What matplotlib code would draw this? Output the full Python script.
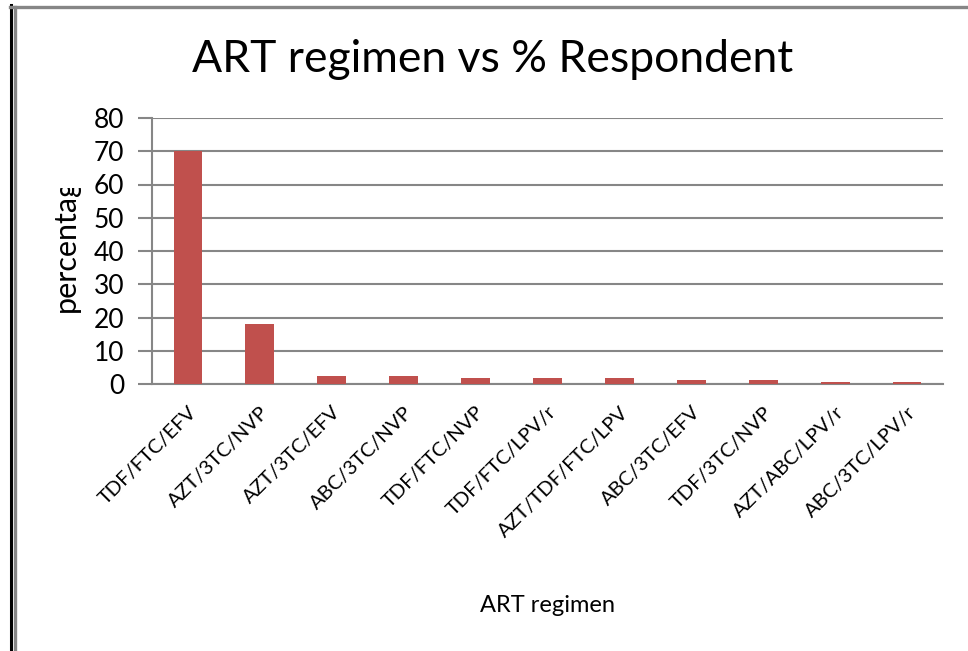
import matplotlib.pyplot as plt
from matplotlib.lines import Line2D
from matplotlib.transforms import Bbox

plt.rcParams["font.family"] = ["Lato", "DejaVu Sans"]

regimens = ["TDF/FTC/EFV", "AZT/3TC/NVP", "AZT/3TC/EFV", "ABC/3TC/NVP",
            "TDF/FTC/NVP", "TDF/FTC/LPV/r", "AZT/TDF/FTC/LPV", "ABC/3TC/EFV",
            "TDF/3TC/NVP", "AZT/ABC/LPV/r", "ABC/3TC/LPV/r"]
percent = [70, 18, 2.5, 2.5, 1.8, 1.8, 1.8, 1.2, 1.2, 0.6, 0.6]
yticks = [0, 10, 20, 30, 40, 50, 60, 70, 80]

W, H = 968, 651
fig = plt.figure(figsize=(W / 100, H / 100), dpi=100)
ax = fig.add_axes([152 / W, 1 - 384 / H, (943 - 152) / W, (384 - 118) / H])

grid_c = "#868686"
x = range(len(regimens))
ax.bar(x, percent, width=0.4, color="#C0504D", zorder=3)
ax.set_xlim(-0.5, len(regimens) - 0.5)
ax.set_ylim(0, 80)
ax.set_yticks(yticks)
ax.yaxis.grid(True, color=grid_c, linewidth=1.5)
ax.set_axisbelow(True)
ax.tick_params(axis="y", length=10, width=1.5, color=grid_c, labelsize=19, pad=10)
ax.tick_params(axis="x", length=0, pad=14)
ax.set_xticks(list(x))
ax.set_xticklabels(regimens, rotation=45, ha="right", rotation_mode="anchor", fontsize=14.5)
for s in ["top", "right"]:
    ax.spines[s].set_visible(False)
for s in ["left", "bottom"]:
    ax.spines[s].set_color(grid_c)
    ax.spines[s].set_linewidth(1.5)

fig.text(493 / W, 1 - 60 / H, "ART regimen vs % Respondent", fontsize=32,
         ha="center", va="center")
fig.text(547 / W, 1 - 606 / H, "ART regimen", fontsize=17, ha="center", va="center")

# y label clipped at the top like the original
ylab = fig.text(80 / W, 1 - 312 / H, "percentage", fontsize=22, rotation=90,
                ha="left", va="bottom", rotation_mode="anchor")
ylab.set_clip_box(Bbox.from_extents(0, 0, W, H - 188))
ylab.set_clip_on(True)

# outer frame
fig.add_artist(Line2D([11 / W, 11 / W], [0, 1 - 5 / H], color="black", lw=2.2))
fig.add_artist(Line2D([14.5 / W, 14.5 / W], [0, 1 - 6.5 / H], color=grid_c, lw=2.4))
fig.add_artist(Line2D([10 / W, 1], [1 - 6.5 / H, 1 - 6.5 / H], color=grid_c, lw=2.4))

fig.savefig("out.png", dpi=100)
